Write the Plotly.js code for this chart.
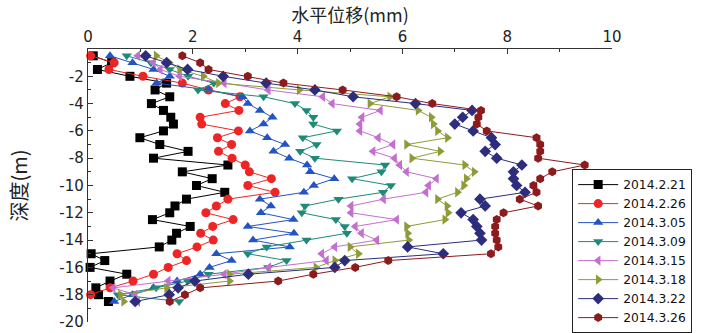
<!DOCTYPE html>
<html><head><meta charset="utf-8">
<script src="https://cdn.plot.ly/plotly-3.0.1.min.js"></script>
<style>html,body{margin:0;padding:0;background:#fff;}#chart{width:704px;height:333px;}</style>
</head><body><div id="chart"></div>
<script>
var depth = [-0.5,-1,-1.5,-2,-2.5,-3,-3.5,-4,-4.5,-5,-5.5,-6,-6.5,-7,-7.5,-8,-8.5,-9,-9.5,-10,-10.5,-11,-11.5,-12,-12.5,-13,-13.5,-14,-14.5,-15,-15.5,-16,-16.5,-17,-17.5,-18,-18.5];
var seriesNames = ["2014.2.21","2014.2.26","2014.3.05","2014.3.09","2014.3.15","2014.3.18","2014.3.22","2014.3.26"];
var d0221 = [0.10,0.45,0.18,0.80,1.50,1.28,1.56,1.21,1.44,1.58,1.63,1.44,0.99,1.37,1.91,1.25,2.67,1.80,2.37,2.07,2.61,1.88,1.66,1.56,1.23,1.95,1.69,1.60,1.36,0.06,0.32,0.04,0.74,0.42,0.15,0.20,0.39];
var d0226 = [0.05,0.50,0.40,1.05,1.80,2.30,2.90,2.62,2.88,2.14,2.17,2.87,2.47,2.74,2.49,2.75,3.00,3.08,3.50,3.05,3.57,2.67,2.45,2.25,2.77,2.38,2.15,2.39,2.08,1.70,1.88,1.53,1.25,0.86,0.42,0.05,null];
var d0305 = [0.42,0.85,1.25,1.56,1.31,2.30,2.95,3.05,3.28,3.52,3.35,3.09,3.42,3.76,3.54,3.84,4.18,4.24,4.70,4.31,4.12,3.28,3.49,3.30,3.92,3.05,3.93,3.15,3.85,2.45,2.74,2.32,2.14,1.70,1.25,0.85,0.50];
var d0309 = [0.74,1.20,1.56,1.91,2.40,2.10,3.35,3.95,4.17,4.30,4.30,4.75,4.10,4.36,4.05,4.33,5.67,5.60,5.04,5.78,5.63,4.78,4.14,4.08,4.73,4.90,4.94,4.17,3.41,3.05,3.79,3.44,2.30,1.90,1.30,0.57,1.74];
var d0315 = [0.95,1.25,1.38,1.75,2.60,3.44,4.48,4.66,5.58,5.23,5.19,5.19,5.54,5.82,5.44,5.85,5.95,6.08,6.65,6.50,6.45,5.64,5.02,5.02,5.89,5.10,5.22,5.51,4.71,4.46,4.55,3.45,2.60,1.53,0.48,0.90,0.95];
var d0318 = [1.30,1.55,1.75,2.20,2.49,4.03,5.76,5.38,6.30,6.55,6.59,6.67,6.86,6.08,6.72,6.18,7.19,7.37,7.22,7.17,7.05,6.67,6.85,6.87,6.81,6.08,6.10,6.12,5.00,5.16,4.71,4.35,2.70,2.70,1.50,0.62,0.68];
var d0322 = [1.10,1.50,1.90,2.58,3.40,4.33,5.06,6.25,7.33,7.15,7.00,7.35,7.70,7.77,7.58,7.80,8.28,8.12,8.12,8.18,8.34,7.48,7.58,7.12,7.35,7.42,7.48,7.51,6.10,6.78,4.90,4.71,3.06,2.04,1.72,1.55,0.90];
var d0326 = [1.80,2.14,2.30,3.05,3.73,4.86,5.89,6.57,7.50,7.45,7.42,7.61,8.56,8.63,8.63,8.59,9.48,8.86,8.63,8.50,8.56,8.24,8.59,7.93,7.80,7.77,7.77,7.80,7.83,7.69,5.73,5.10,4.30,3.63,2.14,1.85,1.56];
var xTickVals = [0,2,4,6,8,10];
var yTickVals = [-2,-4,-6,-8,-10,-12,-14,-16,-18,-20];
var yTickText = ["-2","-4","-6","-8","-10","-12","-14","-16","-18","-20"];

var allData = [d0221,d0226,d0305,d0309,d0315,d0318,d0322,d0326];
var colors = ["#000000","#ee2525","#2454c4","#1f8a78","#c46fcf","#8f9b36","#2c2d7c","#8c1b1d"];
var symbols = ["square","circle","triangle-up","triangle-down","triangle-left","triangle-right","diamond","hexagon"];

var traces = allData.map(function(arr,i){
  return {
    x: arr, y: depth, name: seriesNames[i], type: "scatter", mode: "lines+markers",
    line: {color: colors[i], width: 1},
    marker: {symbol: symbols[i], color: colors[i], size: 9},
    cliponaxis: false
  };
});

var layout = {
  width: 704, height: 333,
  margin: {l: 88, r: 92, t: 49, b: 11, autoexpand: false},
  paper_bgcolor: "#fff", plot_bgcolor: "#fff",
  font: {family: "DejaVu Sans", color: "#222"},
  xaxis: {
    range: [0, 10], side: "top", tickvals: xTickVals,
    ticks: "inside", ticklen: 5, tickwidth: 1, tickcolor: "#333",
    minor: {dtick: 1, ticks: "inside", ticklen: 3, tickcolor: "#333", showgrid: false},
    showline: true, linecolor: "#333", linewidth: 1.2,
    showgrid: false, zeroline: false, ticklabeloverflow: "allow",
    tickfont: {family: "DejaVu Sans", size: 15, color: "#222"},
    title: {text: "水平位移(mm)", font: {family: "Noto Sans CJK SC", size: 18, color: "#222"}, standoff: 0}
  },
  yaxis: {
    range: [-20.001, 0], tickvals: yTickVals, ticktext: yTickText,
    ticks: "inside", ticklen: 5, tickwidth: 1, tickcolor: "#333",
    minor: {dtick: 1, ticks: "inside", ticklen: 3, tickcolor: "#333", showgrid: false},
    showline: true, linecolor: "#333", linewidth: 1.2,
    showgrid: false, zeroline: false, ticklabeloverflow: "allow",
    tickfont: {family: "DejaVu Sans", size: 15, color: "#222"},
    title: {text: "深度(m)", font: {family: "Noto Sans CJK SC", size: 20, color: "#222"}, standoff: 26}
  },
  showlegend: true,
  legend: {
    x: 0.924, xanchor: "left", y: 0.56, yanchor: "top",
    bgcolor: "#fff", bordercolor: "#222", borderwidth: 1,
    font: {family: "DejaVu Sans", size: 12.3, color: "#111"},
    itemwidth: 40, tracegroupgap: 0
  }
};
Plotly.newPlot("chart", traces, layout, {displayModeBar: false, staticPlot: true});
</script></body></html>
